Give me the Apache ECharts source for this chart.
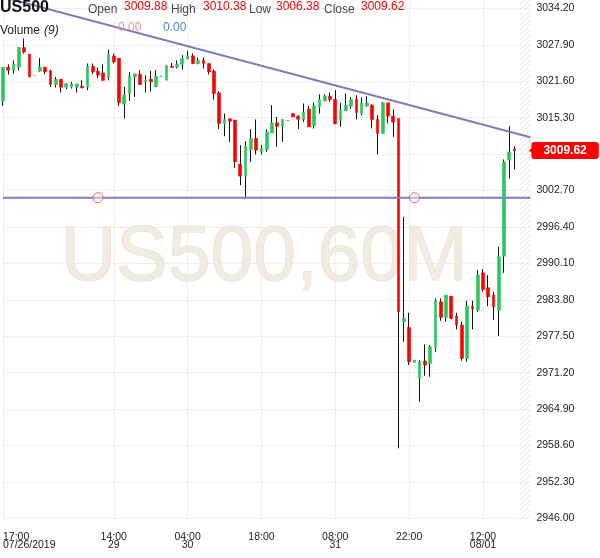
<!DOCTYPE html>
<html>
<head>
<meta charset="utf-8">
<script src="https://cdn.jsdelivr.net/npm/echarts@6/dist/echarts.min.js"></script>
<style>
  html, body { margin: 0; padding: 0; background: #fff; }
  #chart { width: 600px; height: 558px; }
</style>
</head>
<body>
<div id="chart"></div>
<script>
  // US500 hourly candles, 07/26/2019 17:00 -> 08/01 18:00
  const opens = [
    3018.20, 3024.03, 3023.51, 3024.08, 3027.43, 3026.28, 3022.59, 3023.34, 3024.03, 3023.39,
    3021.04, 3021.95, 3020.57, 3020.57, 3020.57, 3020.74, 3020.57, 3024.20, 3023.34, 3023.04,
    3022.25, 3025.98, 3025.58, 3017.63, 3019.48, 3022.35, 3022.82, 3021.49, 3021.95, 3020.62,
    3022.47, 3021.78, 3024.20, 3024.08, 3024.55, 3025.46, 3025.98, 3024.67, 3025.24, 3024.67,
    3023.34, 3019.59, 3014.18, 3015.09, 3014.87, 3007.26, 3005.19, 3009.80, 3011.70, 3009.39,
    3009.80, 3012.67, 3014.40, 3013.83, 3014.81, 3016.02, 3015.56, 3014.99, 3016.77, 3013.88,
    3017.17, 3018.20, 3019.02, 3018.44, 3014.87, 3016.47, 3017.29, 3018.50, 3016.02, 3017.34,
    3017.46, 3014.99, 3012.57, 3017.86, 3015.56, 3015.16, 2980.00, 2979.03, 2972.98, 2970.22,
    2973.21, 2972.81, 2975.57, 2983.46, 2980.76, 2984.44, 2980.99, 2979.43, 2973.67, 2982.71,
    2982.02, 2988.47, 2985.88, 2984.62, 2982.02, 2991.36, 3007.95, 3009.88
  ]
  const highs = [
    3024.05, 3024.50, 3025.19, 3027.43, 3028.99, 3026.28, 3022.59, 3025.64, 3024.03, 3023.63,
    3022.35, 3021.95, 3021.31, 3021.49, 3021.14, 3021.78, 3024.67, 3024.67, 3023.98, 3024.50,
    3027.09, 3026.40, 3025.58, 3020.62, 3023.22, 3022.87, 3023.51, 3022.65, 3023.39, 3023.51,
    3022.47, 3024.37, 3024.77, 3025.20, 3026.10, 3026.85, 3026.40, 3025.71, 3025.71, 3024.67,
    3023.63, 3019.88, 3016.02, 3015.16, 3014.87, 3010.55, 3011.24, 3013.31, 3014.99, 3010.55,
    3013.31, 3017.46, 3015.44, 3014.99, 3014.81, 3016.02, 3015.73, 3017.75, 3017.34, 3017.93,
    3019.31, 3019.36, 3019.65, 3020.05, 3017.86, 3019.48, 3018.89, 3019.19, 3018.79, 3019.02,
    3017.63, 3015.73, 3018.03, 3017.86, 3016.72, 3015.16, 2998.15, 2981.56, 2973.38, 2973.38,
    2976.09, 2975.97, 2984.05, 2984.05, 2984.62, 2984.44, 2981.56, 2980.00, 2983.63, 2983.63,
    2988.94, 2989.11, 2988.07, 2985.19, 2992.97, 3008.07, 3013.83, 3010.38
  ]
  const lows = [
    3017.34, 3022.77, 3022.94, 3023.51, 3026.40, 3022.35, 3022.59, 3023.22, 3022.82, 3020.62,
    3020.52, 3019.65, 3020.23, 3020.35, 3019.65, 3020.45, 3020.05, 3022.82, 3022.18, 3021.66,
    3021.78, 3024.67, 3017.34, 3015.16, 3018.20, 3018.89, 3021.04, 3019.65, 3019.83, 3020.62,
    3022.47, 3021.78, 3023.98, 3023.80, 3023.63, 3025.46, 3024.55, 3024.55, 3023.80, 3022.77,
    3018.44, 3013.36, 3012.10, 3011.12, 3006.62, 3003.63, 3001.44, 3007.66, 3008.94, 3008.94,
    3009.39, 3012.67, 3010.25, 3011.12, 3014.81, 3015.44, 3013.36, 3014.57, 3013.71, 3013.43,
    3016.02, 3018.10, 3018.03, 3014.23, 3013.71, 3016.47, 3016.82, 3014.99, 3015.73, 3017.17,
    3013.43, 3008.94, 3012.57, 3014.30, 3011.98, 2958.11, 2976.54, 2972.52, 2972.98, 2966.17,
    2970.67, 2970.49, 2974.82, 2980.17, 2980.00, 2980.41, 2978.69, 2973.26, 2973.09, 2978.69,
    2981.73, 2985.19, 2982.71, 2980.29, 2977.53, 2988.47, 3004.79, 3006.38
  ]
  const closes = [
    3023.98, 3023.51, 3024.50, 3027.43, 3026.67, 3022.35, 3022.59, 3024.03, 3023.22, 3021.04,
    3021.95, 3020.57, 3021.14, 3021.14, 3021.14, 3020.45, 3024.20, 3023.22, 3022.65, 3021.78,
    3026.28, 3024.94, 3017.86, 3019.19, 3022.47, 3022.87, 3021.04, 3021.78, 3021.49, 3022.47,
    3022.47, 3024.25, 3023.98, 3024.55, 3025.53, 3025.98, 3024.67, 3025.24, 3024.67, 3023.22,
    3019.48, 3014.30, 3014.99, 3014.69, 3007.66, 3005.19, 3010.37, 3011.70, 3009.68, 3010.03,
    3012.84, 3014.40, 3013.83, 3014.99, 3014.81, 3015.44, 3015.04, 3016.25, 3013.71, 3017.34,
    3018.44, 3019.07, 3018.44, 3014.23, 3016.60, 3017.46, 3018.44, 3016.20, 3017.86, 3017.86,
    3014.99, 3012.57, 3017.86, 3015.56, 3014.52, 2981.73, 2980.59, 2973.09, 2973.38, 2973.09,
    2972.52, 2975.68, 2983.63, 2980.76, 2984.62, 2980.59, 2979.43, 2973.67, 2982.71, 2982.25,
    2988.07, 2985.60, 2984.32, 2982.59, 2991.24, 3007.66, 3009.39, 3009.62
  ]

  // 101 slots: 98 candles plus empty room on the right
  const slotCount = 101
  const tickIndex = [0, 21, 35, 49, 63, 77, 91]
  const tickText = ['17:00\n07/26/2019', '14:00\n29', '04:00\n30', '18:00', '08:00\n31', '22:00', '12:00\n08/01']

  const priceBase = 2946.00
  const priceStep = 6.3
  const priceTop = 3035.65

  // drawn objects
  const trendLine = [[0, 3036.15], [100, 3011.90]]
  const levelPrice = 3001.45
  const levelAnchors = [18, 78]
  const futureFrom = 98

  const GREEN = '#2bc75c'
  const RED = '#ff0000'
  const FONT = '"Liberation Sans", Arial, sans-serif'

  const categories = Array.from({length: slotCount}, (_, i) => String(i))
  const last = closes.length - 1
  const rel = v => v - priceBase

  const wickData = opens.map((o, i) => [rel(o), rel(closes[i]), rel(lows[i]), rel(highs[i])])
  const bodyData = opens.map((o, i) => {
    let c = closes[i]
    return [rel(o), rel(c), rel(Math.min(o, c)), rel(Math.max(o, c))]
  })

  // hatch pattern for the empty area on the right
  let hatch = document.createElement('canvas')
  hatch.width = 5
  hatch.height = 5
  let hctx = hatch.getContext('2d')
  hctx.strokeStyle = '#e4e4e4'
  hctx.lineWidth = 1
  hctx.beginPath()
  hctx.moveTo(-1, 6)
  hctx.lineTo(6, -1)
  hctx.stroke()

  const isTick = i => tickIndex.indexOf(i) >= 0

  function headText(text, x, y, fill, extra) {
    return {
      type: 'text', x: x, y: y, z: 100, silent: true,
      style: Object.assign({text: text, fill: fill, font: '12px ' + FONT, verticalAlign: 'middle'}, extra || {})
    }
  }

  let chart = echarts.init(document.getElementById('chart'), null, {renderer: 'canvas'})
  chart.setOption({
    animation: false,
    backgroundColor: '#ffffff',
    grid: {left: 1.4, right: 69.6, top: 0, bottom: 39.6},
    xAxis: {
      type: 'category',
      data: categories,
      boundaryGap: false,
      axisLine: {show: false},
      axisTick: {show: false},
      axisLabel: {
        interval: i => isTick(i),
        formatter: (v, i) => tickText[tickIndex.indexOf(i)],
        fontFamily: FONT,
        fontSize: 10.5,
        lineHeight: 8,
        color: '#222',
        margin: 15,
        alignMinLabel: 'left'
      },
      splitLine: {show: true, interval: i => isTick(i), lineStyle: {color: '#eeeeee', width: 1}}
    },
    yAxis: {
      type: 'value',
      position: 'right',
      min: 0,
      max: rel(priceTop),
      interval: priceStep,
      axisLine: {show: false},
      axisTick: {show: false},
      axisLabel: {
        formatter: v => (v + priceBase).toFixed(2),
        showMaxLabel: false,
        fontFamily: FONT,
        fontSize: 10.5,
        color: '#222',
        margin: 6
      },
      splitLine: {show: true, showMaxLine: false, lineStyle: {color: '#eeeeee', width: 1}}
    },
    graphic: [
      {
        type: 'text', x: 264, y: 259, z: 1, silent: true,
        style: {
          text: 'US500,60M', font: '77px ' + FONT, fill: '#f1ebe2', stroke: '#e4dccf', lineWidth: 1,
          align: 'center', verticalAlign: 'middle'
        }
      },
      headText('US500', 0, 8, '#111', {font: 'bold 16px ' + FONT}),
      headText('Open', 88, 10, '#444'),
      headText(opens[last].toFixed(2), 124, 7, RED),
      headText('High', 171, 10, '#444'),
      headText(highs[last].toFixed(2), 203, 7, RED),
      headText('Low', 249, 10, '#444'),
      headText(lows[last].toFixed(2), 276, 7, RED),
      headText('Close', 324, 10, '#444'),
      headText(closes[last].toFixed(2), 361, 7, RED),
      headText('Volume', 0, 31, '#222'),
      headText('(9)', 44, 31, '#222', {font: 'italic 12px ' + FONT}),
      headText('0.00', 118, 28, '#f39090'),
      headText('0.00', 163, 28, '#4a7fd8')
    ],
    series: [
      {
        // black wicks underneath
        type: 'candlestick',
        data: wickData,
        barWidth: 0.5,
        clip: false,
        silent: true,
        z: 2,
        itemStyle: {
          color: '#111', color0: '#111', borderColor: '#111', borderColor0: '#111',
          borderColorDoji: '#111', borderWidth: 1
        }
      },
      {
        // coloured bodies on top
        type: 'candlestick',
        data: bodyData,
        barWidth: 3.2,
        clip: false,
        silent: true,
        z: 3,
        itemStyle: {
          color: GREEN, color0: RED, borderColor: GREEN, borderColor0: RED,
          borderColorDoji: '#888', borderWidth: 0.6
        },
        markArea: {
          silent: true,
          itemStyle: {color: {image: hatch, repeat: 'repeat'}},
          data: [[{xAxis: String(futureFrom)}, {xAxis: String(slotCount - 1)}]]
        },
        markLine: {
          silent: true,
          symbol: 'none',
          lineStyle: {color: 'rgba(0,0,0,0)', width: 0},
          label: {
            show: true,
            position: 'end',
            distance: 1,
            formatter: () => closes[last].toFixed(2),
            backgroundColor: RED,
            color: '#fff',
            fontFamily: FONT,
            fontWeight: 'bold',
            fontSize: 12,
            padding: [3, 12, 2, 12],
            borderRadius: 3
          },
          data: [{yAxis: rel(closes[last])}]
        },
        markPoint: {
          silent: true,
          symbol: 'triangle',
          symbolRotate: 90,
          symbolSize: [8, 5],
          symbolOffset: [1, 0],
          itemStyle: {color: RED},
          label: {show: false},
          data: [{coord: [String(slotCount - 1), rel(closes[last])]}]
        }
      },
      {
        type: 'line',
        data: trendLine.map(([i, v]) => [i, rel(v)]),
        symbol: 'none',
        silent: true,
        z: 4,
        lineStyle: {color: '#7c7cbd', width: 2}
      },
      {
        type: 'line',
        data: [[0, rel(levelPrice)], [slotCount - 1, rel(levelPrice)]],
        symbol: 'none',
        silent: true,
        z: 4,
        lineStyle: {color: '#7c7cbd', width: 2}
      },
      {
        type: 'scatter',
        data: levelAnchors.map(i => [i, rel(levelPrice)]),
        symbol: 'circle',
        symbolSize: 10,
        silent: true,
        z: 5,
        itemStyle: {color: 'rgba(255,255,255,0.55)', borderColor: '#ff3b3b', borderWidth: 1}
      }
    ]
  })
</script>
</body>
</html>
